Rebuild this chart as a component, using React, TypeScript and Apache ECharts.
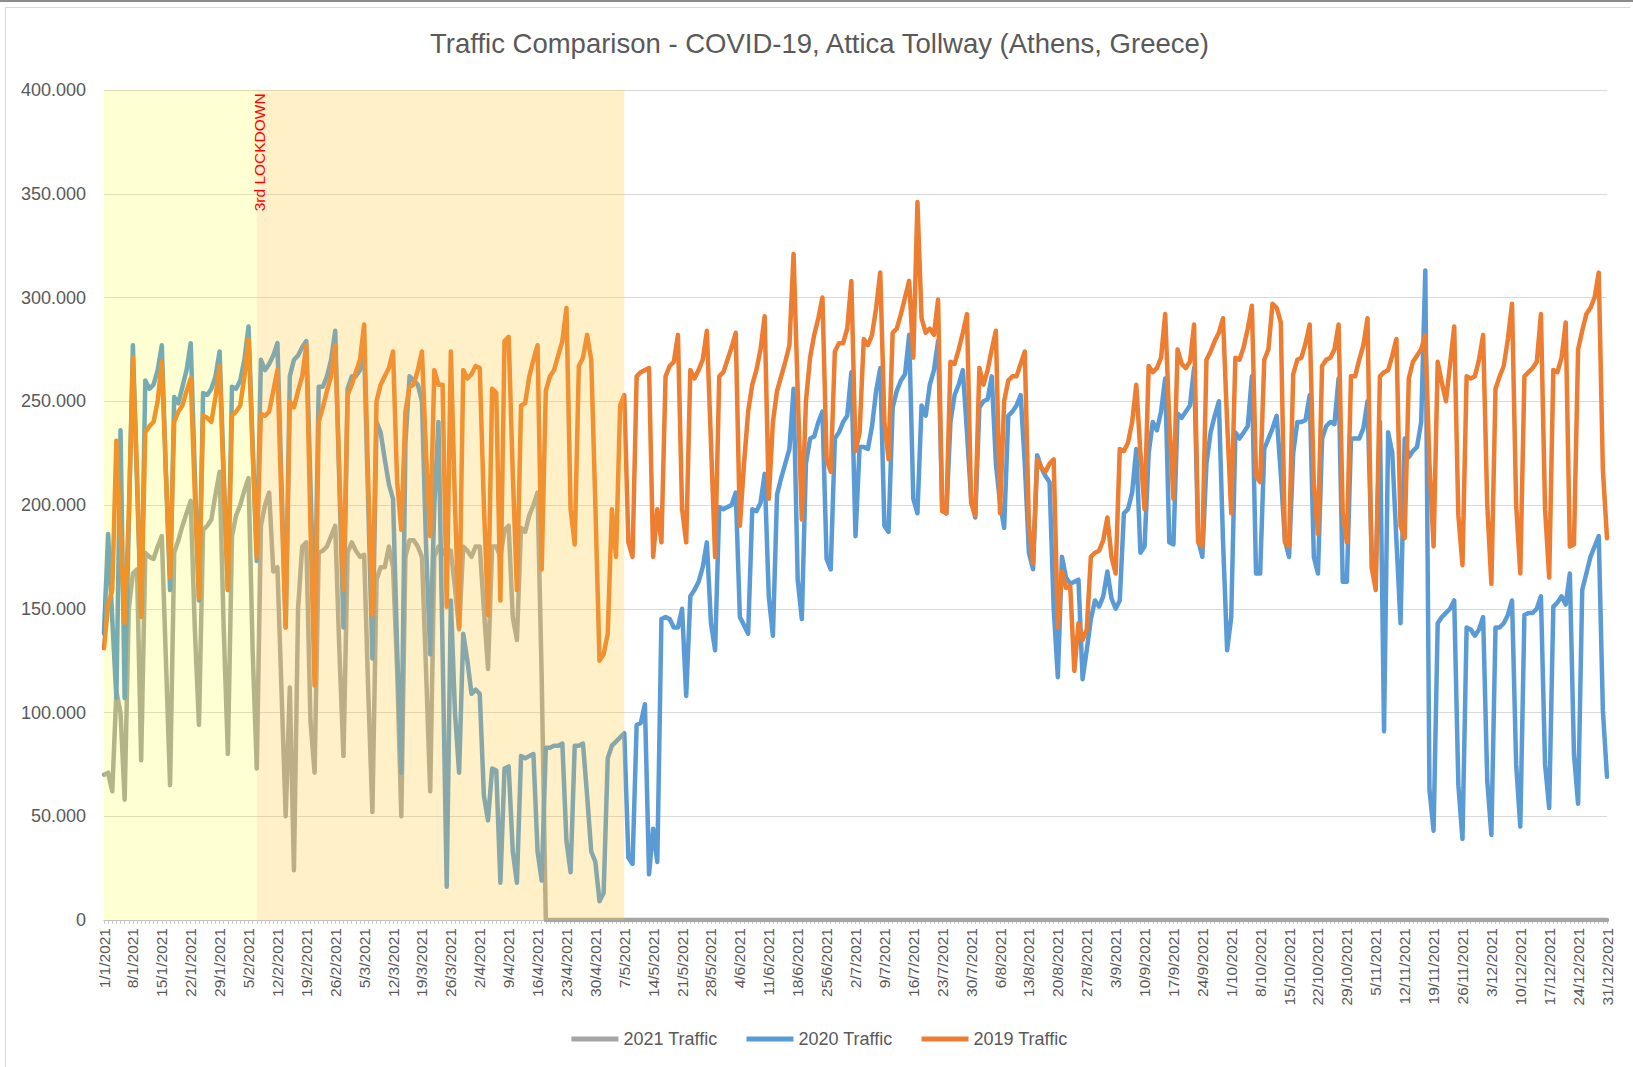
import React, { useEffect, useRef } from "react";
import * as echarts from "echarts";

const TITLE = "Traffic Comparison - COVID-19, Attica Tollway (Athens, Greece)";
const SERIES_NAMES = ["2021 Traffic", "2020 Traffic", "2019 Traffic"];
const SERIES_COLORS = ["#A5A5A5", "#5B9BD5", "#ED7D31"];
const LOCKDOWN_LABEL = "3rd LOCKDOWN";
const YEAR = 2021;
const DAYS_IN_YEAR = 365;
// shaded periods (category labels)
const PERIOD_START = "1/1/2021";
const LOCKDOWN_START = "7/2/2021";
const LOCKDOWN_END = "7/5/2021";
const Y_MAX = 400000;
const Y_STEP = 50000;
const LABEL_ANCHOR_Y = 396000; // where the lockdown text starts (just under the top)

// daily traffic, thousands of vehicles (1/1 .. 31/12)
const TRAFFIC_2021 = [
  70, 71, 62, 110, 100, 58, 150, 167, 169, 77,
  177, 175, 174, 180, 185, 125, 65, 177, 183, 190,
  196, 202, 140, 94, 188, 190, 193, 205, 216, 140,
  80, 185, 195, 200, 207, 213, 130, 73, 190, 200,
  206, 168, 170, 110, 50, 112, 24, 150, 180, 182,
  96, 71, 177, 178, 180, 185, 190, 130, 79, 177,
  182, 178, 175, 176, 110, 52, 164, 170, 170, 180,
  170, 120, 50, 175, 183, 183, 180, 175, 120, 62,
  175, 180, 178, 175, 178, 160, 140, 180, 178, 175,
  180, 180, 150, 121, 180, 180, 175, 188, 190, 146,
  135, 189, 187, 195, 200, 206, 117, 0, 0, 0,
  0, 0, 0, 0, 0, 0, 0, 0, 0, 0,
  0, 0, 0, 0, 0, 0, 0, 0, 0, 0,
  0, 0, 0, 0, 0, 0, 0, 0, 0, 0,
  0, 0, 0, 0, 0, 0, 0, 0, 0, 0,
  0, 0, 0, 0, 0, 0, 0, 0, 0, 0,
  0, 0, 0, 0, 0, 0, 0, 0, 0, 0,
  0, 0, 0, 0, 0, 0, 0, 0, 0, 0,
  0, 0, 0, 0, 0, 0, 0, 0, 0, 0,
  0, 0, 0, 0, 0, 0, 0, 0, 0, 0,
  0, 0, 0, 0, 0, 0, 0, 0, 0, 0,
  0, 0, 0, 0, 0, 0, 0, 0, 0, 0,
  0, 0, 0, 0, 0, 0, 0, 0, 0, 0,
  0, 0, 0, 0, 0, 0, 0, 0, 0, 0,
  0, 0, 0, 0, 0, 0, 0, 0, 0, 0,
  0, 0, 0, 0, 0, 0, 0, 0, 0, 0,
  0, 0, 0, 0, 0, 0, 0, 0, 0, 0,
  0, 0, 0, 0, 0, 0, 0, 0, 0, 0,
  0, 0, 0, 0, 0, 0, 0, 0, 0, 0,
  0, 0, 0, 0, 0, 0, 0, 0, 0, 0,
  0, 0, 0, 0, 0, 0, 0, 0, 0, 0,
  0, 0, 0, 0, 0, 0, 0, 0, 0, 0,
  0, 0, 0, 0, 0, 0, 0, 0, 0, 0,
  0, 0, 0, 0, 0, 0, 0, 0, 0, 0,
  0, 0, 0, 0, 0, 0, 0, 0, 0, 0,
  0, 0, 0, 0, 0, 0, 0, 0, 0, 0,
  0, 0, 0, 0, 0,
];

const TRAFFIC_2020 = [
  138, 186, 145, 107, 236, 107, 190, 277, 210, 147,
  260, 256, 258, 265, 277, 215, 159, 252, 249, 257,
  265, 278, 215, 154, 254, 253, 256, 262, 274, 215,
  159, 257, 256, 260, 270, 286, 230, 173, 270, 265,
  268, 272, 278, 210, 141, 262, 270, 272, 276, 279,
  210, 141, 257, 257, 262, 270, 284, 210, 141, 256,
  262, 262, 265, 275, 200, 126, 240, 235, 222, 210,
  203, 130, 71, 230, 262, 260, 258, 250, 180, 128,
  200, 240, 130, 16, 154, 100, 71, 138, 125, 109,
  111, 109, 60, 48, 73, 72, 18, 73, 74, 33,
  18, 79, 78, 79, 80, 33, 19, 83, 83, 84,
  84, 85, 38, 23, 84, 84, 85, 60, 33, 28,
  9, 13, 78, 84, 86, 88, 90, 30, 27, 94,
  95, 104, 22, 44, 28, 145, 146, 145, 141, 141,
  150, 108, 156, 159, 163, 170, 182, 143, 130, 199,
  198, 199, 200, 206, 146, 142, 138, 198, 197, 201,
  215, 156, 137, 205, 213, 220, 227, 256, 164, 145,
  220, 232, 233, 240, 245, 174, 169, 232, 235, 240,
  243, 264, 185, 228, 228, 227, 238, 255, 266, 190,
  187, 247, 255, 260, 263, 282, 203, 196, 248, 243,
  258, 265, 279, 198, 196, 240, 253, 258, 265, 235,
  203, 194, 247, 250, 251, 262, 220, 201, 189, 243,
  245, 248, 253, 220, 177, 169, 224, 218, 214, 211,
  150, 117, 175, 165, 162, 163, 164, 116, 130, 145,
  154, 151, 156, 168, 155, 150, 154, 196, 198, 206,
  227, 177, 180, 225, 240, 236, 245, 261, 182, 181,
  244, 242, 245, 248, 266, 183, 175, 220, 235, 243,
  250, 183, 130, 146, 235, 232, 235, 238, 262, 167,
  167, 227, 232, 237, 243, 215, 183, 175, 225, 240,
  240, 241, 253, 175, 167, 232, 238, 240, 239, 261,
  163, 163, 232, 232, 232, 237, 250, 177, 168, 240,
  91, 235, 225, 183, 143, 232, 223, 226, 228, 240,
  313, 63, 43, 143, 146, 148, 150, 154, 65, 39,
  141, 140, 137, 140, 146, 67, 41, 141, 141, 143,
  147, 154, 75, 45, 147, 148, 148, 150, 156, 75,
  54, 151, 153, 156, 152, 167, 80, 56, 159, 167,
  175, 180, 185, 101, 69,
];

const TRAFFIC_2019 = [
  131, 152, 159, 231, 185, 143, 195, 271, 215, 146,
  235, 238, 240, 250, 269, 215, 165, 240, 245, 248,
  255, 261, 205, 155, 243, 242, 240, 252, 267, 210,
  159, 243, 245, 248, 262, 280, 225, 175, 244, 243,
  245, 255, 265, 200, 141, 250, 247, 255, 262, 277,
  190, 113, 240, 247, 255, 262, 277, 215, 159, 253,
  258, 264, 270, 287, 210, 147, 250, 258, 262, 266,
  274, 211, 188, 245, 257, 258, 265, 274, 225, 185,
  265, 258, 258, 151, 274, 200, 141, 265, 261, 263,
  267, 266, 200, 147, 256, 254, 154, 279, 281, 215,
  159, 248, 249, 262, 270, 277, 169, 255, 262, 265,
  272, 279, 295, 198, 181, 267, 271, 282, 270, 200,
  125, 128, 138, 198, 175, 248, 253, 182, 175, 262,
  264, 265, 266, 175, 198, 182, 262, 267, 269, 282,
  198, 182, 265, 261, 265, 270, 284, 230, 175, 262,
  264, 270, 276, 283, 190, 220, 245, 258, 265, 275,
  291, 203, 240, 255, 262, 269, 277, 321, 255, 193,
  250, 271, 282, 290, 300, 222, 216, 274, 278, 278,
  285, 308, 226, 235, 280, 277, 282, 295, 312, 240,
  222, 283, 285, 292, 300, 308, 271, 346, 290, 283,
  285, 282, 299, 197, 196, 269, 268, 275, 283, 292,
  201, 195, 266, 258, 265, 275, 284, 196, 250, 260,
  262, 262, 268, 274, 190, 172, 222, 218, 216, 220,
  222, 141, 168, 160, 161, 120, 143, 135, 140, 175,
  177, 178, 183, 194, 175, 167, 227, 226, 230, 240,
  258, 225, 198, 267, 264, 266, 271, 292, 240, 203,
  275, 268, 266, 269, 287, 182, 180, 270, 274, 279,
  283, 290, 240, 196, 271, 270, 276, 285, 296, 214,
  211, 270, 275, 297, 295, 288, 182, 180, 263, 270,
  271, 278, 287, 210, 186, 267, 270, 271, 275, 287,
  196, 182, 262, 262, 270, 277, 290, 170, 159, 262,
  264, 265, 272, 280, 190, 184, 261, 269, 272, 275,
  282, 220, 180, 269, 259, 250, 268, 286, 195, 171,
  262, 261, 262, 270, 282, 200, 162, 256, 262, 267,
  280, 297, 200, 167, 262, 264, 266, 269, 292, 198,
  165, 265, 264, 271, 288, 180, 181, 275, 284, 292,
  295, 300, 312, 217, 184,
];

const FONT = "'Liberation Sans', Arial, sans-serif";

function buildCategories(): string[] {
  const out: string[] = [];
  for (let i = 0; i < DAYS_IN_YEAR; i++) {
    const d = new Date(Date.UTC(YEAR, 0, 1 + i));
    out.push(`${d.getUTCDate()}/${d.getUTCMonth() + 1}/${YEAR}`);
  }
  return out;
}

function formatThousands(v: number): string {
  return String(v).replace(/\B(?=(\d{3})+(?!\d))/g, ".");
}

export default function App() {
  const ref = useRef<HTMLDivElement>(null);

  useEffect(() => {
    if (!ref.current) return;
    const chart = echarts.init(ref.current, null, { renderer: "svg" });
    const categories = buildCategories();
    const datasets = [TRAFFIC_2021, TRAFFIC_2020, TRAFFIC_2019];

    const series: any[] = datasets.map((arr, i) => ({
      name: SERIES_NAMES[i],
      type: "line",
      data: arr.map((v) => v * 1000),
      symbol: "none",
      showSymbol: false,
      z: 2 + i,
      itemStyle: { color: SERIES_COLORS[i] },
      lineStyle: { color: SERIES_COLORS[i], width: 4.5, join: "round", cap: "round" },
    }));

    series[2].markArea = {
      silent: true,
      z: 10,
      data: [
        [
          { xAxis: PERIOD_START, itemStyle: { color: "rgba(255,255,0,0.17)" } },
          { xAxis: LOCKDOWN_START },
        ],
        [
          { xAxis: LOCKDOWN_START, itemStyle: { color: "rgba(255,200,50,0.27)" } },
          { xAxis: LOCKDOWN_END },
        ],
      ],
    };
    series[2].markLine = {
      silent: true,
      z: 11,
      symbol: ["none", "none"],
      lineStyle: { color: "rgba(0,0,0,0)", width: 0 },
      label: {
        show: true,
        formatter: LOCKDOWN_LABEL,
        position: "insideEndBottom",
        color: "#FF0000",
        fontSize: 15.5,
        fontFamily: FONT,
        distance: -5,
      },
      data: [[{ xAxis: LOCKDOWN_START, yAxis: 0 }, { xAxis: LOCKDOWN_START, yAxis: LABEL_ANCHOR_Y }]],
    };

    chart.setOption({
      animation: false,
      backgroundColor: "#ffffff",
      textStyle: { fontFamily: FONT },
      title: {
        text: TITLE,
        left: "center",
        top: 16,
        textStyle: { fontSize: 27.5, fontWeight: "normal", color: "#595959", fontFamily: FONT },
      },
      legend: {
        data: SERIES_NAMES,
        top: 1017,
        left: "center",
        icon: "rect",
        itemWidth: 47,
        itemHeight: 5,
        itemGap: 29,
        textStyle: { fontSize: 18, color: "#595959", fontFamily: FONT },
      },
      grid: { left: 98, right: 26, top: 82, bottom: 147, containLabel: false },
      xAxis: {
        type: "category",
        data: categories,
        boundaryGap: false,
        axisLine: { lineStyle: { color: "#bfbfbf", width: 1 } },
        axisTick: { show: true, interval: 0, length: 4, lineStyle: { color: "#c8c8c8" } },
        axisLabel: { interval: 6, rotate: 90, fontSize: 15.5, color: "#595959", margin: 8, fontFamily: FONT },
        splitLine: { show: false },
      },
      yAxis: {
        type: "value",
        min: 0,
        max: Y_MAX,
        interval: Y_STEP,
        axisLine: { show: false },
        axisTick: { show: false },
        axisLabel: { formatter: (v: number) => formatThousands(v), fontSize: 18, color: "#595959", margin: 18, fontFamily: FONT },
        splitLine: { lineStyle: { color: "#d9d9d9", width: 1 } },
      },
      series,
    });
    return () => chart.dispose();
  }, []);

  return (
    <div style={{ position: "absolute", left: 0, top: 0, width: 1633, height: 1067, background: "#fff", overflow: "hidden" }}>
      <div style={{ position: "absolute", left: 0, top: 0, width: 1633, height: 2, background: "#8c8c8c" }} />
      <div style={{ position: "absolute", left: 5, top: 7, width: 1625, height: 1100, border: "1px solid #d9d9d9", boxSizing: "border-box" }} />
      <div ref={ref} style={{ position: "absolute", left: 6, top: 8, width: 1627, height: 1059 }} />
    </div>
  );
}
